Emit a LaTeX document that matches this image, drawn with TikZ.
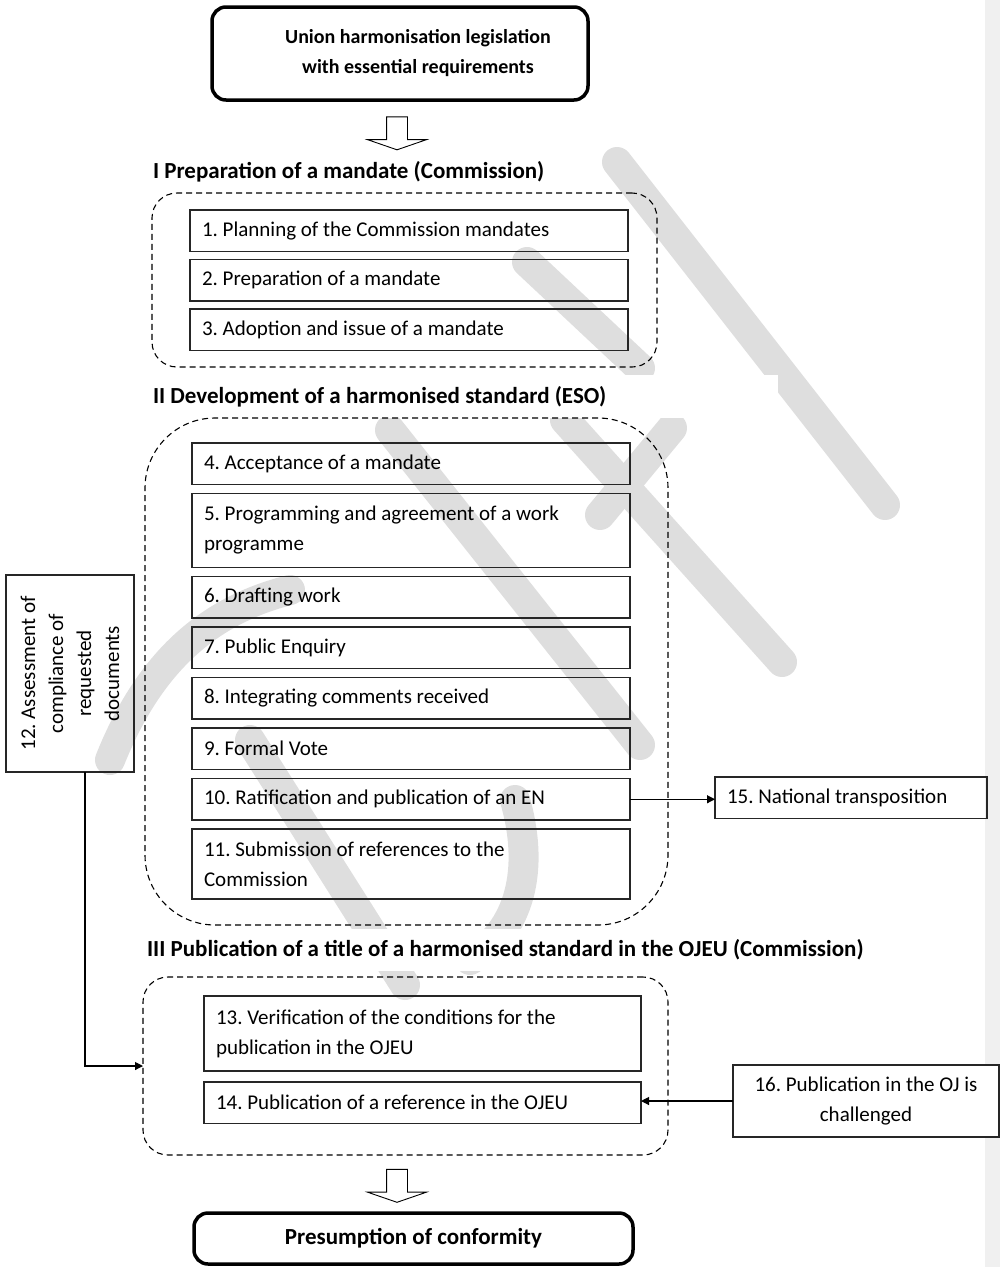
\documentclass[tikz,border=0pt]{standalone}
\usepackage{fontspec}
\setmainfont{Carlito}
\usetikzlibrary{positioning,shapes.arrows,arrows.meta}
\definecolor{wmgris}{RGB}{222,222,222}
\definecolor{marge}{RGB}{240,240,240}
\newcommand{\etapefont}{\fontsize{21}{30}\selectfont}
\newcommand{\titrefont}{\fontsize{23}{30}\selectfont\bfseries}
\newcommand{\hautfont}{\fontsize{20}{30}\selectfont\bfseries}
\newcommand{\vertfont}{\fontsize{21}{28}\selectfont}
\frenchspacing

\begin{document}
\begin{tikzpicture}[x=1pt,y=-1pt,node distance=9pt,
  every node/.style={outer sep=0pt},
  etape/.style={draw=black!85,line width=1.2pt,text width=414pt,inner xsep=12pt,inner ysep=0pt,
                minimum height=41.5pt,align=flush left,font=\etapefont},
  zone/.style={draw,dash pattern=on 6pt off 4pt,line width=1.1pt,rounded corners=#1},
  cadre/.style={draw,line width=3.5pt,rounded corners=14pt,align=flush center,font=\titrefont},
  titre/.style={fill=white,anchor=west,inner xsep=2pt,inner ysep=8pt,font=\titrefont},
  fleche/.style={single arrow,draw,line width=0.9pt,fill=white,rotate=-90,minimum height=33pt,
                 inner xsep=0pt,inner ysep=10pt,single arrow head extend=19pt,single arrow tip angle=142},
  lien/.style={line width=1.1pt,-{Triangle[length=8pt,width=8pt]}},
  wm/.style={wmgris,line width=30pt,line cap=round}]

% page and margin
\useasboundingbox (0,0) rectangle (1000,1267);
\fill[marge] (985,0) rectangle (1000,1267);

% watermark
\draw[wm] (617,162) -- (885,505);
\draw[wm] (527,262) -- (640,368);
\draw[wm] (672,428) -- (600,515);
\draw[wm] (565,420) -- (782,662);
\draw[wm] (390,430) -- (640,745);
\draw[wm] (250,740) -- (405,985);
\draw[wm] (110,760) .. controls (150,660) and (210,610) .. (290,590);
\draw[wm] (515,800) .. controls (535,870) and (520,930) .. (470,960);

% top
\node[cadre,font=\hautfont,minimum width=376pt,minimum height=93pt] (U) at (400,53.5) {\hspace*{36pt}Union harmonisation legislation\\\hspace*{36pt}with essential requirements};
\node[fleche] (F1) at (397,131.5) {};

% I
\node[titre] (T1) at (151,172) {I Preparation of a mandate (Commission)};
\node[zone=25pt,minimum width=505pt,minimum height=174pt,anchor=north west] (Z1) at (152,193) {};
\node[etape,anchor=north west] (E1) at (190,210) {1. Planning of the Commission mandates};
\node[etape,below=8pt of E1] (E2) {2. Preparation of a mandate};
\node[etape,below=8pt of E2] (E3) {3. Adoption and issue of a mandate};

% II
\node[titre,text width=623pt,minimum height=43pt,align=flush left] (T2) at (151,396.5) {II Development of a harmonised standard (ESO)};
\node[zone=70pt,minimum width=523pt,minimum height=507pt,anchor=north west] (Z2) at (145,418) {};
\node[etape,anchor=north west] (E4) at (192,443) {4. Acceptance of a mandate};
\node[etape,below=of E4,minimum height=74pt] (E5) {5. Programming and agreement of a work\\programme};
\node[etape,below=of E5] (E6) {6. Drafting work};
\node[etape,below=of E6] (E7) {7. Public Enquiry};
\node[etape,below=of E7] (E8) {8. Integrating comments received};
\node[etape,below=of E8] (E9) {9. Formal Vote};
\node[etape,below=of E9] (E10) {10. Ratification and publication of an EN};
\node[etape,below=of E10,minimum height=70pt] (E11) {11. Submission of references to the\\Commission};

\node[etape,rotate=90,text width=173pt,minimum height=128pt,align=flush center,font=\vertfont] (E12) at (70,673.5) {12. Assessment of\\compliance of\\requested\\documents};
\node[etape,anchor=north west,text width=248pt] (E15) at (715,777) {15. National transposition};

% III
\node[titre,minimum height=42pt] (T3) at (145,950) {III Publication of a title of a harmonised standard in the OJEU (Commission)};
\node[zone=25pt,minimum width=525pt,minimum height=178pt,anchor=north west] (Z3) at (143,977) {};
\node[etape,anchor=north west,text width=413pt,minimum height=75pt] (E13) at (204,996) {13. Verification of the conditions for the\\publication in the OJEU};
\node[etape,below=11pt of E13,text width=413pt] (E14) {14. Publication of a reference in the OJEU};
\node[etape,anchor=north west,text width=242pt,minimum height=72pt,align=flush center,fill=white] (E16) at (733,1065) {16. Publication in the OJ is\\challenged};

% links
\draw[lien] (E10.east) -- (E10.east -| E15.west);
\draw[lien] (E16.west) -- (E16.west -| E14.east);
\draw[lien] ([xshift=15pt]E12.west) |- (Z3.west);

% bottom
\node[fleche] (F2) at (397,1184) {};
\node[cadre,minimum width=439pt,minimum height=51pt] (P) at (413.5,1238.5) {Presumption of conformity};
\end{tikzpicture}
\end{document}
